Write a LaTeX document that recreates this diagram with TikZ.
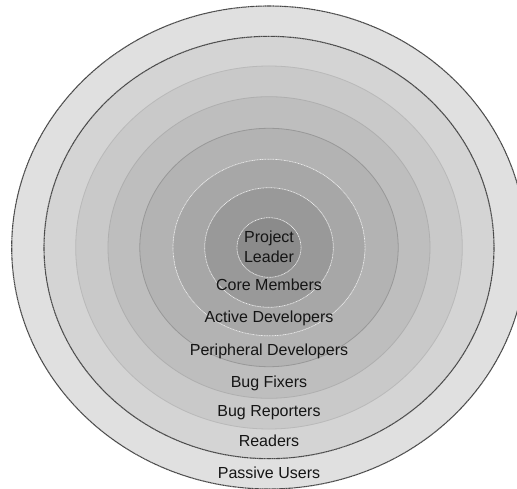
\documentclass[tikz,border=0pt]{standalone}
\usepackage{fontspec}
\setmainfont{Liberation Sans}
\definecolor{txt}{HTML}{151515}
\definecolor{c1}{HTML}{E0E0E0}
\definecolor{c2}{HTML}{D4D4D4}
\definecolor{c3}{HTML}{C9C9C9}
\definecolor{c4}{HTML}{BEBEBE}
\definecolor{c5}{HTML}{B3B3B3}
\definecolor{c6}{HTML}{A7A7A7}
\definecolor{c7}{HTML}{999999}
\definecolor{c8}{HTML}{8B8B8B}
\definecolor{darkline}{HTML}{4A4A4A}
\tikzset{
  darkring/.style={draw=darkline, line width=1.1pt, dash pattern=on 1.3pt off 0.4pt},
  softring/.style={line width=0.8pt},
  lightring/.style={draw=white!85!gray, line width=0.7pt, dash pattern=on 1pt off 0.6pt},
  lbl/.style={font=\fontsize{16}{18}\selectfont, text=txt, anchor=base, inner sep=0pt}
}
\begin{document}
\begin{tikzpicture}[x=1pt,y=-1pt]
\useasboundingbox (0,0) rectangle (517,489);
\coordinate (c) at (269,247.5);
\fill[c1] (c) ellipse [x radius=257.3, y radius=241.5];
\draw[darkring] (c) ellipse [x radius=257.3, y radius=241.5];
\fill[c2] (c) ellipse [x radius=225, y radius=211.2];
\draw[darkring] (c) ellipse [x radius=225, y radius=211.2];
\filldraw[fill=c3, draw=c3!92!black, softring] (c) ellipse [x radius=193.3, y radius=181.5];
\filldraw[fill=c4, draw=c4!92!black, softring] (c) ellipse [x radius=161, y radius=150.8];
\filldraw[fill=c5, draw=c5!85!black, softring] (c) ellipse [x radius=129.2, y radius=119.2];
\filldraw[fill=c6, lightring] (c) ellipse [x radius=96, y radius=88.3];
\filldraw[fill=c7, lightring] (c) ellipse [x radius=64.3, y radius=59.8];
\filldraw[fill=c8, lightring] (c) ellipse [x radius=32, y radius=29.8];
\node[lbl] (pl1) at (269,242.7) {Project};
\node[lbl] (pl2) at (269,262.7) {Leader};
\node[lbl] (cm) at (269,290.7) {Core Members};
\node[lbl] (ad) at (269,322.7) {Active Developers};
\node[lbl] (pd) at (269,355) {Peripheral Developers};
\node[lbl] (bf) at (269,387.3) {Bug Fixers};
\node[lbl] (br) at (269,416.7) {Bug Reporters};
\node[lbl] (rd) at (269,446.7) {Readers};
\node[lbl] (pu) at (269,478.3) {Passive Users};
\end{tikzpicture}
\end{document}
